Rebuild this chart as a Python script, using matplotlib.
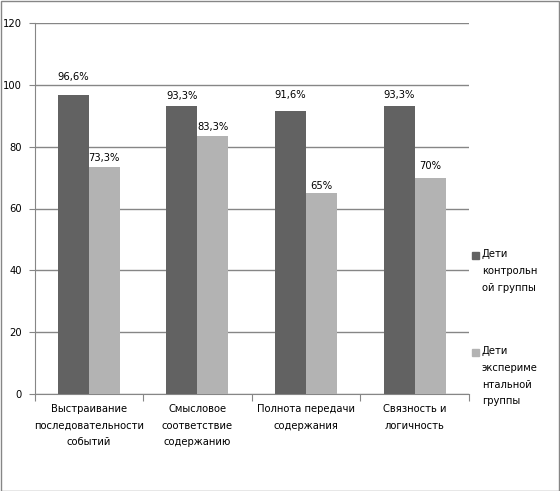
import matplotlib.pyplot as plt
import matplotlib.patches as mpatches
import numpy as np

categories = ["Выстраивание\nпоследовательности\nсобытий",
              "Смысловое\nсоответствие\nсодержанию",
              "Полнота передачи\nсодержания",
              "Связность и\nлогичность"]
control = [96.6, 93.3, 91.6, 93.3]
experimental = [73.3, 83.3, 65, 70]
control_labels = ["96,6%", "93,3%", "91,6%", "93,3%"]
experimental_labels = ["73,3%", "83,3%", "65%", "70%"]
series_names = ["Дети\nконтрольн\nой группы", "Дети\nэксперим\u0435\nнтальной\nгруппы"]

dark = "#626262"
light = "#b3b3b3"
grid_col = "#868686"

plt.rcParams['font.family'] = ['DejaVu Sans']
fs = 7.2

fig = plt.figure(figsize=(5.6, 4.91), dpi=100)
ax = fig.add_axes([34.5 / 560, 1 - 394 / 491, (469 - 34.5) / 560, (394 - 23) / 491])

x = np.arange(len(categories))
w = 0.285
ax.bar(x - w / 2, control, w, color=dark, zorder=3)
ax.bar(x + w / 2, experimental, w, color=light, zorder=3)

# label offsets in pixels (Excel put them a bit unevenly)
off_dark = [18, 10, 16, 11]
off_light = [9, 9, 7, 12]
for i in range(len(x)):
    ax.annotate(control_labels[i], (x[i] - w / 2, control[i]), xytext=(0, off_dark[i]),
                textcoords="offset pixels", ha="center", va="center", fontsize=fs)
    ax.annotate(experimental_labels[i], (x[i] + w / 2, experimental[i]), xytext=(0, off_light[i]),
                textcoords="offset pixels", ha="center", va="center", fontsize=fs)

ax.set_ylim(0, 120)
ax.set_yticks(range(0, 121, 20))
ax.set_xlim(-0.5, len(categories) - 0.5)
ax.set_xticks(np.arange(-0.5, len(categories), 1))
ax.set_xticklabels([])
ax.set_xticks(x, minor=True)
ax.set_xticklabels(categories, minor=True, fontsize=fs, linespacing=1.85)
ax.tick_params(axis="x", which="minor", length=0, pad=7)
ax.tick_params(axis="x", which="major", length=5, color=grid_col)
ax.tick_params(axis="y", length=4, color=grid_col, labelsize=fs, pad=5)

ax.grid(axis="y", color=grid_col, linewidth=1, zorder=0)
for s in ["top", "right"]:
    ax.spines[s].set_visible(False)
for s in ["left", "bottom"]:
    ax.spines[s].set_color(grid_col)

# legend drawn by hand to get Excel-style placement
leg_y = [255, 352]
for name, col, yy in zip(series_names, [dark, light], leg_y):
    fig.patches.append(mpatches.Rectangle((472 / 560, 1 - (yy + 3.5) / 491), 7 / 560, 7 / 491,
                                          transform=fig.transFigure, color=col))
    fig.text(482 / 560, 1 - (yy - 6) / 491, name, fontsize=fs, va="top", ha="left", linespacing=1.85)

fig.patches.append(mpatches.Rectangle((0.001, 0.001), 0.997, 0.997, transform=fig.transFigure,
                                      fill=False, edgecolor=grid_col, linewidth=1))

fig.savefig("out.png", dpi=100)
